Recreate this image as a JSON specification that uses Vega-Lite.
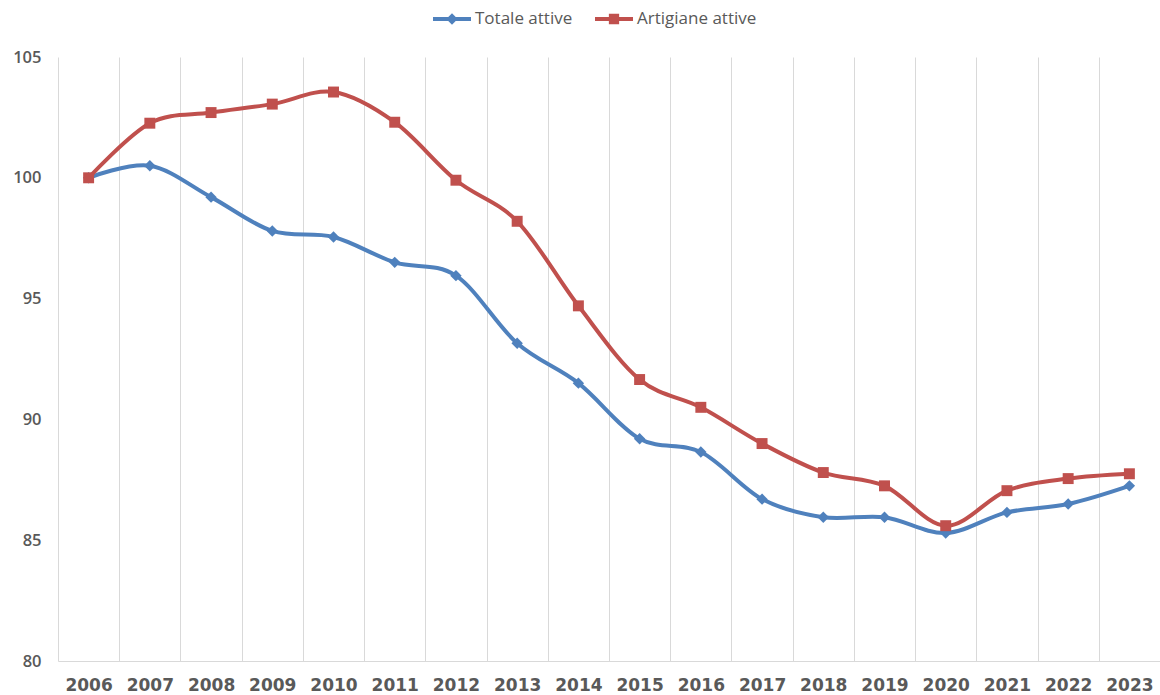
{
  "$schema": "https://vega.github.io/schema/vega-lite/v6.json",
  "width": 1102,
  "height": 604,
  "autosize": {"type": "none"},
  "padding": {"left": 58, "top": 57, "right": 0, "bottom": 34},
  "background": "white",
  "config": {
    "view": {"stroke": null},
    "font": "Open Sans"
  },
  "data": {
    "values": [
      {"year": "2006", "series": "Totale attive", "value": 100.0},
      {"year": "2007", "series": "Totale attive", "value": 100.5},
      {"year": "2008", "series": "Totale attive", "value": 99.2},
      {"year": "2009", "series": "Totale attive", "value": 97.8},
      {"year": "2010", "series": "Totale attive", "value": 97.55},
      {"year": "2011", "series": "Totale attive", "value": 96.5},
      {"year": "2012", "series": "Totale attive", "value": 95.95},
      {"year": "2013", "series": "Totale attive", "value": 93.15},
      {"year": "2014", "series": "Totale attive", "value": 91.5},
      {"year": "2015", "series": "Totale attive", "value": 89.2},
      {"year": "2016", "series": "Totale attive", "value": 88.65},
      {"year": "2017", "series": "Totale attive", "value": 86.7},
      {"year": "2018", "series": "Totale attive", "value": 85.95},
      {"year": "2019", "series": "Totale attive", "value": 85.95},
      {"year": "2020", "series": "Totale attive", "value": 85.3},
      {"year": "2021", "series": "Totale attive", "value": 86.15},
      {"year": "2022", "series": "Totale attive", "value": 86.5},
      {"year": "2023", "series": "Totale attive", "value": 87.25},
      {"year": "2006", "series": "Artigiane attive", "value": 100.0},
      {"year": "2007", "series": "Artigiane attive", "value": 102.26},
      {"year": "2008", "series": "Artigiane attive", "value": 102.7},
      {"year": "2009", "series": "Artigiane attive", "value": 103.05},
      {"year": "2010", "series": "Artigiane attive", "value": 103.55},
      {"year": "2011", "series": "Artigiane attive", "value": 102.3},
      {"year": "2012", "series": "Artigiane attive", "value": 99.9},
      {"year": "2013", "series": "Artigiane attive", "value": 98.2},
      {"year": "2014", "series": "Artigiane attive", "value": 94.7},
      {"year": "2015", "series": "Artigiane attive", "value": 91.65},
      {"year": "2016", "series": "Artigiane attive", "value": 90.5},
      {"year": "2017", "series": "Artigiane attive", "value": 89.0},
      {"year": "2018", "series": "Artigiane attive", "value": 87.8},
      {"year": "2019", "series": "Artigiane attive", "value": 87.25},
      {"year": "2020", "series": "Artigiane attive", "value": 85.6},
      {"year": "2021", "series": "Artigiane attive", "value": 87.05},
      {"year": "2022", "series": "Artigiane attive", "value": 87.55},
      {"year": "2023", "series": "Artigiane attive", "value": 87.75}
    ]
  },
  "encoding": {
    "x": {
      "field": "year",
      "type": "ordinal",
      "scale": {"type": "band", "paddingInner": 0, "paddingOuter": 0},
      "axis": {
        "title": null,
        "labelAngle": 0,
        "ticks": false,
        "tickBand": "extent",
        "grid": true,
        "gridColor": "#d9d9d9",
        "gridWidth": 1,
        "domainColor": "#d9d9d9",
        "domainWidth": 1,
        "labelFont": "DejaVu Sans",
        "labelFontSize": 17,
        "labelFontWeight": "bold",
        "labelColor": "#595959",
        "labelPadding": 16
      }
    },
    "y": {
      "field": "value",
      "type": "quantitative",
      "scale": {"domain": [80, 105], "nice": false, "zero": false},
      "axis": {
        "title": null,
        "values": [80, 85, 90, 95, 100, 105],
        "domain": false,
        "ticks": false,
        "grid": false,
        "labelFont": "Open Sans",
        "labelFontSize": 16.5,
        "labelFontWeight": 600,
        "labelColor": "#595959",
        "labelPadding": 17
      }
    }
  },
  "layer": [
    {
      "transform": [{"filter": "datum.series === 'Totale attive'"}],
      "mark": {"type": "line", "color": "#4F81BD", "strokeWidth": 4, "interpolate": "cardinal"}
    },
    {
      "transform": [{"filter": "datum.series === 'Totale attive'"}],
      "mark": {"type": "point", "shape": "diamond", "filled": true, "color": "#4F81BD", "size": 130, "opacity": 1}
    },
    {
      "transform": [{"filter": "datum.series === 'Artigiane attive'"}],
      "mark": {"type": "line", "color": "#C0504D", "strokeWidth": 4, "interpolate": "cardinal"}
    },
    {
      "transform": [{"filter": "datum.series === 'Artigiane attive'"}],
      "mark": {"type": "point", "shape": "square", "filled": true, "color": "#C0504D", "size": 120, "opacity": 1}
    },
    {
      "transform": [{"filter": "false"}],
      "mark": {"type": "point", "filled": true, "opacity": 1, "strokeWidth": 0},
      "encoding": {
        "color": {
          "field": "series",
          "type": "nominal",
          "scale": {"domain": ["Totale attive", "Artigiane attive"], "range": ["#4F81BD", "#C0504D"]},
          "legend": {
            "title": null,
            "orient": "none",
            "legendX": 375,
            "legendY": -57,
            "direction": "horizontal",
            "symbolSize": 1444,
            "symbolStrokeWidth": 0,
            "labelFont": "Open Sans",
            "labelFontSize": 17,
            "labelColor": "#595959",
            "labelOffset": 4,
            "columnPadding": 22,
            "padding": 0
          }
        },
        "shape": {
          "field": "series",
          "type": "nominal",
          "scale": {
            "domain": ["Totale attive", "Artigiane attive"],
            "range": [
              "M-1,-0.1H1V0.1H-1Z M0,-0.3L0.3,0L0,0.3L-0.3,0Z",
              "M-1,-0.1H1V0.1H-1Z M-0.27,-0.27H0.27V0.27H-0.27Z"
            ]
          },
          "legend": {
            "title": null,
            "orient": "none",
            "legendX": 375,
            "legendY": -57,
            "direction": "horizontal",
            "symbolSize": 1444,
            "symbolStrokeWidth": 0,
            "labelFont": "Open Sans",
            "labelFontSize": 17,
            "labelColor": "#595959",
            "labelOffset": 4,
            "columnPadding": 22,
            "padding": 0
          }
        }
      }
    }
  ]
}
